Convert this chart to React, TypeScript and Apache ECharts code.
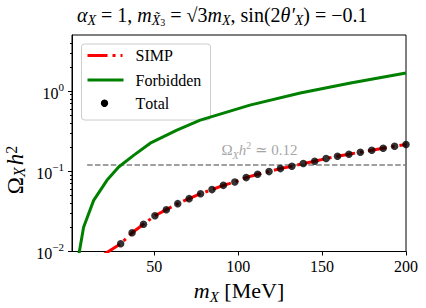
import React, { useEffect, useRef } from 'react';
import * as echarts from 'echarts';

// m_X [MeV] and Omega_X h^2
const massTotal = [30, 36.8, 43.6, 50.4, 57.2, 64, 70.8, 77.6, 84.4, 91.2, 98, 104.8, 111.6, 118.4, 125.2, 132, 138.8, 145.6, 152.4, 159.2, 166, 172.8, 179.6, 186.4, 193.2, 200];
const omegaTotal = [0.0125, 0.0171, 0.0219, 0.0279, 0.0332, 0.0395, 0.0456, 0.0526, 0.0591, 0.0668, 0.0735, 0.0834, 0.0917, 0.0991, 0.108, 0.1155, 0.1248, 0.1334, 0.144, 0.154, 0.163, 0.173, 0.183, 0.194, 0.205, 0.216];

const massSIMP = [20, 30, 36.8, 43.6, 50.4, 57.2, 64, 70.8, 77.6, 84.4, 91.2, 98, 104.8, 111.6, 118.4, 125.2, 132, 138.8, 145.6, 152.4, 159.2, 166, 172.8, 179.6, 186.4, 193.2, 200];
const omegaSIMP = [0.0092, 0.0125, 0.0171, 0.0219, 0.0279, 0.0332, 0.0395, 0.0456, 0.0526, 0.0591, 0.0668, 0.0735, 0.0834, 0.0917, 0.0991, 0.108, 0.1155, 0.1248, 0.1334, 0.144, 0.154, 0.163, 0.173, 0.183, 0.194, 0.205, 0.216];

const massForbidden = [4, 5.4, 7.9, 13.9, 21.8, 28.8, 37.7, 47.6, 63.5, 77.4, 107, 137, 167, 200];
const omegaForbidden = [0.0068, 0.01, 0.0201, 0.0434, 0.0772, 0.113, 0.158, 0.224, 0.325, 0.434, 0.668, 0.944, 1.26, 1.68];

const relicMass = [10, 200];
const relicValue = 0.12;
const relicLabelAt = [90, 0.183];

const xTicks = [50, 100, 150, 200];
const yMajorTicks = [0.01, 0.1, 1];
const yMinorTicks = [0.02, 0.03, 0.04, 0.05, 0.06, 0.07, 0.08, 0.09, 0.2, 0.3, 0.4, 0.5, 0.6, 0.7, 0.8, 0.9, 2, 3, 4];

const legendNames = ['SIMP', 'Forbidden', 'Total'];

const FONT = 'Liberation Serif, DejaVu Serif, serif';

// split a plain string into one rich token per character so the serif font is applied
const richChars = (s: string, key = 'n') => s.split('').map((c) => `{${key}|${c}}`).join('');

export default function App() {
  const ref = useRef<HTMLDivElement>(null);
  useEffect(() => {
    if (!ref.current) return;
    const chart = echarts.init(ref.current, null, { renderer: 'svg' });
    const pair = (xs: number[], ys: number[]) => xs.map((x, i) => [x, ys[i]]);
    const base = { fontFamily: FONT, fontWeight: 'normal', color: '#000' };
    const gbase = { fontFamily: FONT, fontWeight: 'normal', fill: '#000' };
    const titleRich = {
      n: { ...gbase, fontSize: 20, lineHeight: 24, verticalAlign: 'middle' },
      i: { ...gbase, fontSize: 20, fontStyle: 'italic', lineHeight: 24, verticalAlign: 'middle' },
      s: { ...gbase, fontSize: 14, fontStyle: 'italic', lineHeight: 15, verticalAlign: 'bottom' },
      ss: { ...gbase, fontSize: 10, lineHeight: 10, verticalAlign: 'bottom' },
    };
    const legendRich = { n: { ...gbase, fontSize: 16, lineHeight: 18, verticalAlign: 'middle' } };
    const yNameRich = {
      n: { ...gbase, fontSize: 23, lineHeight: 24, verticalAlign: 'middle' },
      i: { ...gbase, fontSize: 23, fontStyle: 'italic', lineHeight: 24, verticalAlign: 'middle' },
      s: { ...gbase, fontSize: 16, fontStyle: 'italic', lineHeight: 14, verticalAlign: 'bottom', padding: [0, 2, 0, 0] },
      p: { ...gbase, fontSize: 16, lineHeight: 14, verticalAlign: 'top' },
    };
    chart.setOption({
      animation: false,
      textStyle: { fontFamily: FONT },
      grid: { left: 72, right: 20, top: 35, bottom: 56.5, show: true, borderColor: '#000', borderWidth: 1, outerBoundsMode: 'none', containLabel: false },
      xAxis: {
        type: 'value',
        min: 1,
        max: 200,
        name: '{i|m}{s|X}{n| [MeV]}',
        nameLocation: 'middle',
        nameGap: 17,
        nameTextStyle: {
          ...base,
          fontSize: 22,
          rich: {
            n: { ...base, fontSize: 22, lineHeight: 28, verticalAlign: 'middle' },
            i: { ...base, fontSize: 22, fontStyle: 'italic', lineHeight: 28, verticalAlign: 'middle' },
            s: { ...base, fontSize: 15, fontStyle: 'italic', lineHeight: 16, verticalAlign: 'bottom' },
          },
        },
        axisLine: { show: true, lineStyle: { color: '#000', width: 1 } },
        axisTick: { show: true, inside: false, length: 4, customValues: xTicks, lineStyle: { color: '#000' } },
        axisLabel: {
          customValues: xTicks,
          margin: 6,
          fontFamily: FONT,
          formatter: (v: number) => richChars(String(v)),
          rich: { n: { ...base, fontSize: 16, lineHeight: 18, verticalAlign: 'middle' } },
        },
        splitLine: { show: false },
      },
      yAxis: [
        {
          type: 'log',
          logBase: 10,
          min: 0.01,
          max: 5,
          axisLine: { show: true, lineStyle: { color: '#000', width: 1 } },
          axisTick: { show: true, inside: false, length: 4, customValues: yMajorTicks, lineStyle: { color: '#000' } },
          axisLabel: {
            customValues: yMajorTicks,
            margin: 8,
            formatter: (v: number) => {
              const e = Math.round(Math.log10(v));
              return `{b|10}{p|${e < 0 ? '−' + -e : e}}`;
            },
            rich: {
              b: { ...base, fontSize: 16, lineHeight: 20, verticalAlign: 'bottom' },
              p: { ...base, fontSize: 11, lineHeight: 20, verticalAlign: 'top' },
            },
          },
          splitLine: { show: false },
        },
        {
          type: 'log',
          logBase: 10,
          min: 0.01,
          max: 5,
          position: 'left',
          axisLine: { show: false },
          axisTick: { show: true, inside: false, length: 2, customValues: yMinorTicks, lineStyle: { color: '#000' } },
          axisLabel: { show: false },
          splitLine: { show: false },
        },
      ],
      series: [
        {
          name: 'Relic',
          type: 'line',
          data: relicMass.map((m) => [m, relicValue]),
          showSymbol: false,
          lineStyle: { color: '#808080', width: 1.5, type: [5.5, 2.4] },
          z: 1,
        },
        {
          name: 'RelicLabel',
          type: 'scatter',
          data: [relicLabelAt],
          symbolSize: 0,
          label: {
            show: true,
            position: 'right',
            distance: 0,
            formatter: '{n|Ω}{s|X}{i|h}{p|2}{n| ≃ 0.12}',
            rich: {
              n: { fontFamily: FONT, fontSize: 15, color: '#8c8c8c', lineHeight: 20, verticalAlign: 'middle' },
              i: { fontFamily: FONT, fontSize: 15, fontStyle: 'italic', color: '#8c8c8c', lineHeight: 20, verticalAlign: 'middle' },
              s: { fontFamily: FONT, fontSize: 10, fontStyle: 'italic', color: '#8c8c8c', lineHeight: 12, verticalAlign: 'bottom' },
              p: { fontFamily: FONT, fontSize: 10, color: '#8c8c8c', lineHeight: 12, verticalAlign: 'top' },
            },
          },
          z: 1,
        },
        {
          name: legendNames[1],
          type: 'line',
          data: pair(massForbidden, omegaForbidden),
          showSymbol: false,
          lineStyle: { color: '#008000', width: 3 },
          z: 2,
        },
        {
          name: legendNames[0],
          type: 'line',
          data: pair(massSIMP, omegaSIMP),
          showSymbol: false,
          lineStyle: { color: '#ff0000', width: 3, type: [19, 5, 3, 5], cap: 'butt' },
          z: 3,
        },
        {
          name: legendNames[2],
          type: 'scatter',
          data: pair(massTotal, omegaTotal),
          symbol: 'circle',
          symbolSize: 7.5,
          itemStyle: { color: '#000' },
          z: 4,
        },
      ],
      graphic: [
        {
          type: 'text',
          x: 77,
          y: 15,
          z: 100,
          style: {
            text: '{i|α}{s|X}{n| = 1, }{i|m}{s|X̃}{ss|3}{n| = √3}{i|m}{s|X}{n|, sin(2}{i|θ′}{s|X}{n|) = −0.1}',
            fontFamily: FONT,
            fontSize: 20,
            fill: '#000',
            align: 'left',
            verticalAlign: 'middle',
            rich: titleRich,
          },
        },
        {
          type: 'text',
          x: 15,
          y: 170,
          rotation: Math.PI / 2,
          z: 100,
          style: {
            text: '{n|Ω}{s|X}{i|h}{p|2}',
            fontFamily: FONT,
            fontSize: 23,
            fill: '#000',
            align: 'center',
            verticalAlign: 'middle',
            rich: yNameRich,
          },
        },
        {
          type: 'group',
          left: 81,
          top: 43.5,
          z: 100,
          children: [
            { type: 'rect', shape: { x: 0, y: 0, width: 129, height: 76, r: 3 }, style: { fill: 'rgba(255,255,255,0.8)', stroke: '#cccccc', lineWidth: 1 } },
            { type: 'line', shape: { x1: 6, y1: 11.5, x2: 41, y2: 11.5 }, style: { stroke: '#ff0000', lineWidth: 3, lineDash: [20, 5, 3, 5] } },
            { type: 'line', shape: { x1: 6, y1: 36, x2: 42, y2: 36 }, style: { stroke: '#008000', lineWidth: 3 } },
            { type: 'circle', shape: { cx: 23, cy: 59.2, r: 3.7 }, style: { fill: '#000' } },
            { type: 'text', x: 54, y: 11.5, style: { text: richChars(legendNames[0]), fontFamily: FONT, fontSize: 16, fill: '#000', verticalAlign: 'middle', rich: legendRich } },
            { type: 'text', x: 54, y: 36, style: { text: richChars(legendNames[1]), fontFamily: FONT, fontSize: 16, fill: '#000', verticalAlign: 'middle', rich: legendRich } },
            { type: 'text', x: 54, y: 59.2, style: { text: richChars(legendNames[2]), fontFamily: FONT, fontSize: 16, fill: '#000', verticalAlign: 'middle', rich: legendRich } },
          ],
        },
      ],
    });
    return () => chart.dispose();
  }, []);
  return <div ref={ref} style={{ position: 'fixed', left: 0, top: 0, width: 426, height: 308, background: '#fff' }} />;
}
